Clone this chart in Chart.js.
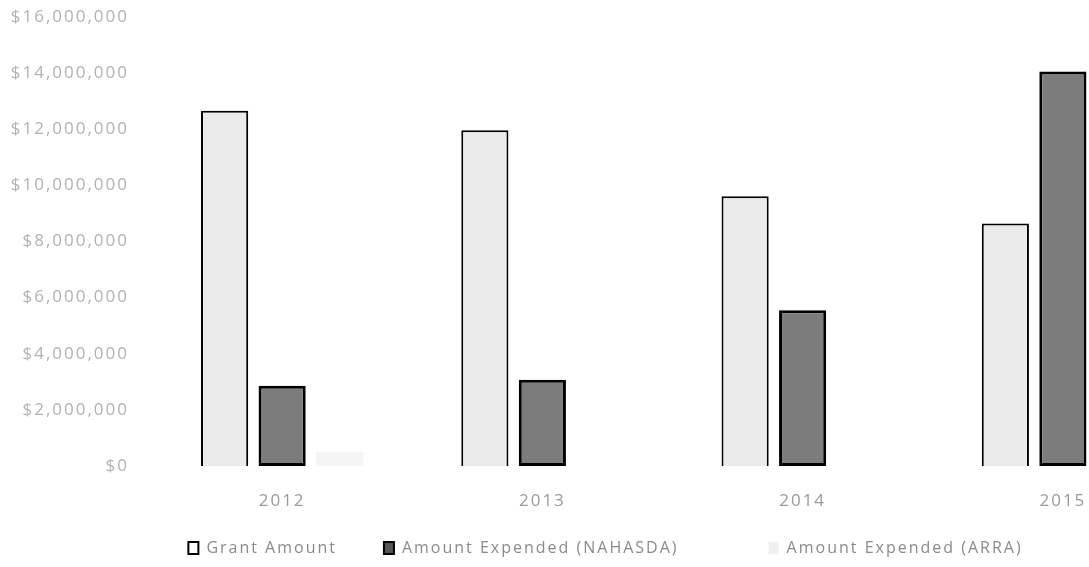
<!DOCTYPE html>
<html>
<head>
<meta charset="utf-8">
<script src="https://cdn.jsdelivr.net/npm/chart.js@4/dist/chart.umd.min.js"></script>
<style>
  html, body { margin: 0; padding: 0; background: #ffffff; overflow: hidden; }
  #wrap { position: relative; width: 1200px; height: 567px; }
</style>
</head>
<body>
<div id="wrap"><canvas id="chart"></canvas></div>
<script>
// Fiscal years on the category axis
const years = ['2012', '2013', '2014', '2015'];

// Dollar amounts per year
const grantAmount     = [12660000, 11960000, 9610000, 8640000];
const expendedNahasda = [2860000, 3070000, 5550000, 14060000];
const expendedArra    = [500000, 0, 0, 0];

const seriesNames = ['Grant Amount', 'Amount Expended (NAHASDA)', 'Amount Expended (ARRA)'];

// Value axis: $0 to $16,000,000 in $2,000,000 steps
const yMin = 0;
const yMax = 16000000;
const yStep = 2000000;

const FONT = "'Open Sans', 'DejaVu Sans', sans-serif";

// extra trailing room after each legend entry
const legendTrail = [6, 13, 0];

// canvas letter spacing (reset whenever the canvas is resized)
const spacedText = {
  id: 'spacedText',
  beforeUpdate(chart) { chart.ctx.letterSpacing = '2px'; },
  beforeLayout(chart) { chart.ctx.letterSpacing = '2px'; },
  beforeDraw(chart) { chart.ctx.letterSpacing = '2px'; }
};

// nudge the legend row to the right
const legendShift = {
  id: 'legendShift',
  afterLayout(chart) {
    const lg = chart.legend;
    if (lg) { lg.left += 9; lg.right += 9; }
  }
};

const money = v => '$' + Number(v).toLocaleString('en-US');

new Chart(document.getElementById('chart'), {
  type: 'bar',
  data: {
    labels: years,
    datasets: [
      {
        label: seriesNames[0],
        data: grantAmount,
        backgroundColor: '#ebebeb',
        borderColor: '#000000',
        borderWidth: 2,
        borderSkipped: 'start'
      },
      {
        label: seriesNames[1],
        data: expendedNahasda,
        backgroundColor: '#7c7c7c',
        borderColor: '#000000',
        borderWidth: 3,
        borderSkipped: false
      },
      {
        label: seriesNames[2],
        data: expendedArra,
        backgroundColor: '#f5f5f5',
        borderWidth: 0
      }
    ]
  },
  options: {
    responsive: true,
    maintainAspectRatio: false,
    animation: false,
    layout: { padding: { top: 17, right: 7, bottom: 1, left: 0 } },
    datasets: {
      bar: { categoryPercentage: 0.663, barPercentage: 0.82 }
    },
    scales: {
      x: {
        grid: { display: false },
        border: { display: false },
        ticks: {
          color: '#9a9a9a',
          font: { family: FONT, size: 17 },
          padding: 17
        },
        afterFit(scale) { scale.height = 64; }
      },
      y: {
        min: yMin,
        max: yMax,
        grid: { display: false, drawTicks: false },
        border: { display: false },
        ticks: {
          stepSize: yStep,
          color: '#b2b2b2',
          font: { family: FONT, size: 17 },
          padding: 23,
          callback: v => money(v)
        },
        afterFit(scale) {
          scale.width = 152;
          scale.paddingTop = 0;
          scale.paddingBottom = 0;
        }
      }
    },
    plugins: {
      tooltip: { enabled: false },
      legend: {
        position: 'bottom',
        labels: {
          color: '#8a8a8a',
          font: { family: FONT, size: 16 },
          boxWidth: 10,
          boxHeight: 12,
          padding: 10,
          generateLabels(chart) {
            const styles = [
              { fill: '#ffffff', stroke: '#000000', lw: 2 },
              { fill: '#555555', stroke: '#000000', lw: 2 },
              { fill: '#f0f0f0', stroke: '#f0f0f0', lw: 0 }
            ];
            return chart.data.datasets.map((ds, i) => ({
              text: ds.label + ' '.repeat(legendTrail[i]),
              fillStyle: styles[i].fill,
              strokeStyle: styles[i].stroke,
              lineWidth: styles[i].lw,
              fontColor: '#8a8a8a',
              hidden: false,
              datasetIndex: i
            }));
          }
        }
      }
    }
  },
  plugins: [spacedText, legendShift]
});
</script>
</body>
</html>
